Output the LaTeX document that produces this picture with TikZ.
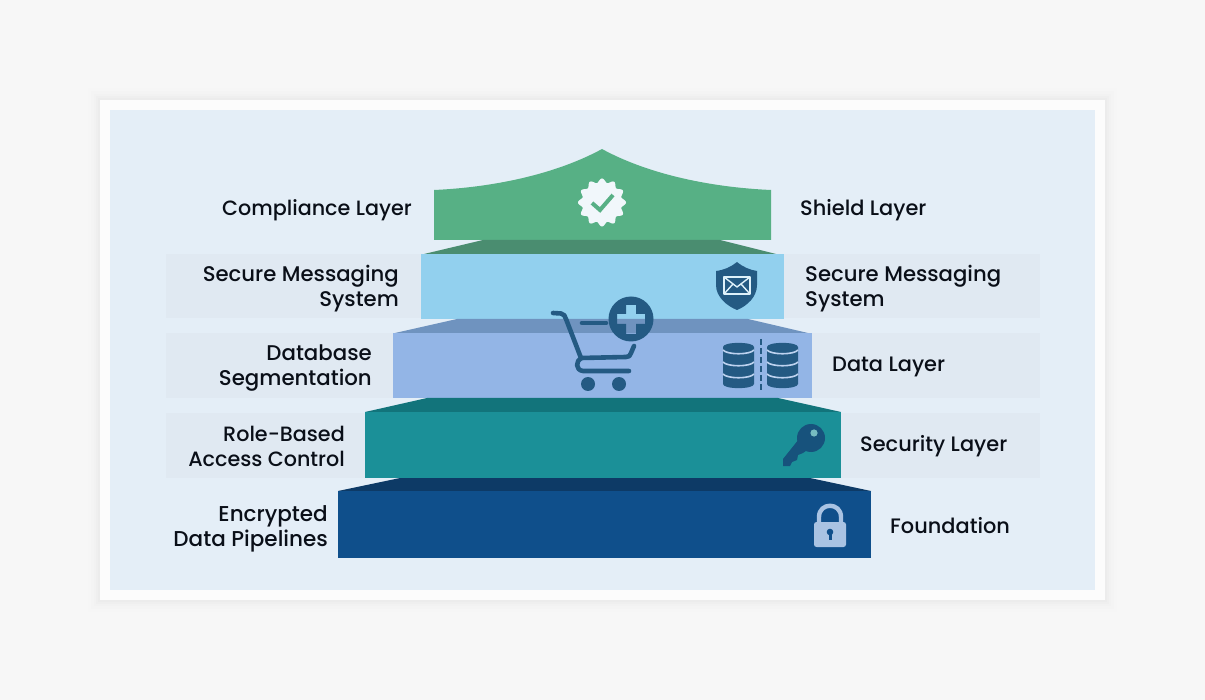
\documentclass[tikz,border=0pt]{standalone}
\usepackage{fontspec}
\setmainfont{Poppins Medium}
\definecolor{pagebg}{HTML}{F7F7F7}
\definecolor{panelbg}{HTML}{E4EEF7}
\definecolor{bandbg}{HTML}{E0E9F2}
\definecolor{inkc}{HTML}{0A0F18}
\definecolor{iconc}{HTML}{245A83}
\definecolor{greenf}{HTML}{57B085}
\definecolor{greent}{HTML}{4A8D70}
\definecolor{skyf}{HTML}{92D0EE}
\definecolor{perif}{HTML}{93B5E6}
\definecolor{perit}{HTML}{6F93BF}
\definecolor{tealf}{HTML}{1B9098}
\definecolor{tealt}{HTML}{12747B}
\definecolor{navyf}{HTML}{0F4F8B}
\definecolor{navyt}{HTML}{0D3A66}
\definecolor{lockc}{HTML}{A9C3E3}
\definecolor{keyc}{HTML}{17527C}
\tikzset{
  lbl/.style={inner sep=0pt,text=inkc,font=\fontsize{20.9}{25}\selectfont},
  lbll/.style={lbl,anchor=east,align=right},
  lblr/.style={lbl,anchor=west,align=left},
  cartline/.style={draw=iconc,line width=4.6pt,line cap=round,line join=round},
  sep/.style={draw=perif!60!white,line width=1.6pt}
}
\newcommand{\dbcyl}[1]{%
  \begin{scope}[shift={(#1,0)}]
    \fill[iconc] (0,347) .. controls (0,341.5) and (31,341.5) .. (31,347) -- (31,384) .. controls (31,389.5) and (0,389.5) .. (0,384) -- cycle;
    \draw[sep] (0,350) .. controls (4,355) and (27,355) .. (31,350);
    \draw[sep] (0,362) .. controls (4,367) and (27,367) .. (31,362);
    \draw[sep] (0,374) .. controls (4,379) and (27,379) .. (31,374);
  \end{scope}}
\begin{document}
\begin{tikzpicture}[x=1pt,y=-1pt]
\useasboundingbox (0,0) rectangle (1205,700);
\fill[pagebg] (0,0) rectangle (1205,700);
% panel with soft shadow
\foreach \d/\o in {12/.004,9/.006,6/.008,4/.01,2/.012}
  \fill[black,opacity=\o] (100-\d,100-\d) rectangle (1105+\d,600+\d);
\fill[white!60!pagebg] (100,100) rectangle (1105,600);
\fill[panelbg] (110,110) rectangle (1095,590);
% bands
\fill[bandbg] (166,254) rectangle (1040,318);
\fill[bandbg] (166,333) rectangle (1040,398);
\fill[bandbg] (166,413) rectangle (1040,478);
% layers
\fill[greenf] (434,190) .. controls (500,187) and (560,172) .. (602,149) .. controls (644,172) and (704,187) .. (771,190) -- (771,240) -- (434,240) -- cycle;
\fill[greent] (483,240) -- (720,240) -- (776,254) -- (424,254) -- cycle;
\fill[skyf] (421,254) rectangle (784,319);
\fill[perit] (457,319) -- (748,319) -- (808,333) -- (395,333) -- cycle;
\fill[perif] (393,333) rectangle (812,398);
\fill[tealt] (427,398) -- (778,398) -- (841,412) -- (365,412) -- cycle;
\fill[tealf] (365,412) rectangle (841,478);
\fill[navyt] (400,478) -- (810,478) -- (871,491) -- (338,491) -- cycle;
\fill[navyf] (338,491) rectangle (871,558);
% badge
\fill[panelbg!50!white] plot[domain=0:360,samples=145,smooth] ({602+(22+2*cos(12*\x))*sin(\x)},{202.5-(22+2*cos(12*\x))*cos(\x)}) -- cycle;
\draw[greenf,line width=4pt] (592,203) -- (600,210) -- (613,195);
% shield with envelope
\fill[iconc] (737,262) .. controls (743,267) and (750,270) .. (757,271) -- (757,285) .. controls (757,297) and (747,306) .. (737,310) .. controls (727,306) and (716,297) .. (716,285) -- (716,271) .. controls (724,270) and (731,267) .. (737,262) -- cycle;
\draw[skyf!30!white,line width=1.4pt,line join=round] (724,277) rectangle (750,294);
\draw[skyf!30!white,line width=1.4pt,line join=round] (724,277) -- (737,287) -- (750,277) (724,294) -- (733,284) (750,294) -- (741,284);
% cart
\draw[cartline] (553,313) -- (561,313.5) .. controls (564,314) and (565,316) .. (566,319) -- (581,358) -- (626,357) .. controls (629,357) and (630,356) .. (631,353) -- (634,346);
\draw[cartline] (581,358) .. controls (576,361) and (575,370) .. (583,371) -- (629,371);
\fill[iconc] (588,384) circle (7);
\fill[iconc] (619,384) circle (7);
\draw[cartline] (582,323) -- (606,323);
\fill[iconc,even odd rule] (631,319) circle (22.5)
  (626,305) -- (636,305) -- (636,314) -- (645,314) -- (645,324) -- (636,324) -- (636,334) -- (626,334) -- (626,324) -- (617,324) -- (617,314) -- (626,314) -- cycle;
% databases
\dbcyl{723}
\dbcyl{767}
\draw[iconc,line width=1.6pt,dash pattern=on 6pt off 3pt] (761,339) -- (761,392);
% key
\fill[keyc] (811,438) circle (14);
\fill[keyc] (799,439) -- (783,459) -- (783,466) -- (790,466) -- (792,462) -- (797,460) -- (798,455) -- (803,453) -- (810,448) -- cycle;
\fill[tealf!60!white] (814,433) circle (3.6);
% lock
\draw[lockc,line width=4.4pt] (819,524) -- (819,517) .. controls (819,502) and (841,502) .. (841,517) -- (841,524);
\fill[lockc,rounded corners=2.5pt] (814,522) rectangle (846,547);
\fill[navyf] (830,532) circle (3.3);
\draw[navyf,line width=3pt] (830,532) -- (830,540);
% labels
\node[lbll,font=\fontsize{20.7}{25}\selectfont] (complianceL) at (412,210) {Compliance Layer};
\node[lbll,font=\fontsize{21.2}{25}\selectfont] (messagingL) at (399,289) {Secure Messaging\\System};
\node[lbll,font=\fontsize{21.3}{25}\selectfont] (databaseL) at (372,368) {Database\\Segmentation};
\node[lbll,font=\fontsize{20.7}{25}\selectfont] (roleL) at (345,446) {Role-Based\\Access Control};
\node[lbll,font=\fontsize{21.5}{25}\selectfont] (pipelinesL) at (328,529) {Encrypted\\Data Pipelines};
\node[lblr] (shieldR) at (800,210) {Shield Layer};
\node[lblr,font=\fontsize{21.2}{25}\selectfont] (messagingR) at (805,289) {Secure Messaging\\System};
\node[lblr] (dataR) at (832,367) {Data Layer};
\node[lblr] (securityR) at (860,446) {Security Layer};
\node[lblr] (foundationR) at (890,525.5) {Foundation};
\end{tikzpicture}
\end{document}
